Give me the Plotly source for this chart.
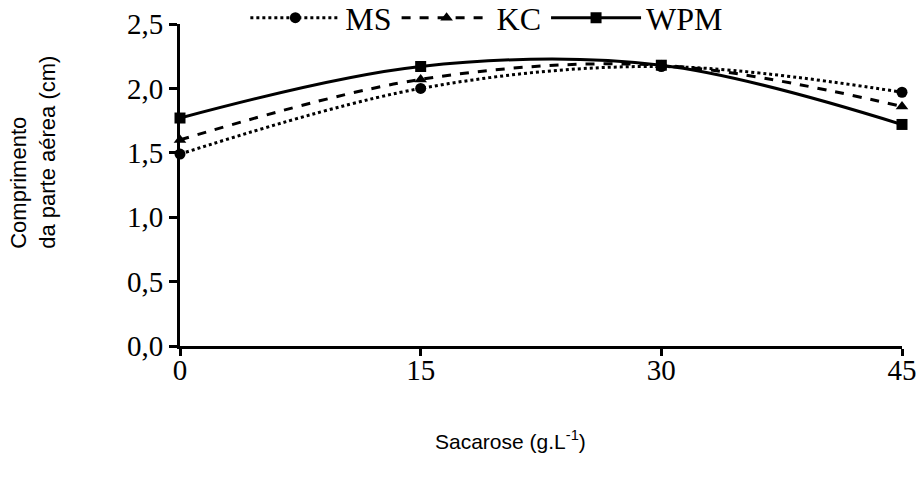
import plotly.graph_objects as go

sacarose = [0, 15, 30, 45]
ms = [1.49, 2.00, 2.17, 1.97]
kc = [1.60, 2.07, 2.18, 1.86]
wpm = [1.77, 2.17, 2.18, 1.72]
y_ticks = [0, 0.5, 1.0, 1.5, 2.0, 2.5]
y_labels = ["0,0", "0,5", "1,0", "1,5", "2,0", "2,5"]
x_ticks = [0, 15, 30, 45]

fig = go.Figure()
series = [
    ("MS", ms, "dot", "circle"),
    ("KC", kc, "dash", "triangle-up"),
    ("WPM", wpm, "solid", "square"),
]
for name, vals, dash, sym in series:
    fig.add_trace(go.Scatter(
        x=sacarose, y=vals, name=name, mode="lines+markers",
        line=dict(color="black", width=3, dash=dash, shape="spline", smoothing=1.0),
        marker=dict(color="black", size=11, symbol=sym),
        cliponaxis=False,
    ))

fig.update_layout(
    width=921, height=485,
    margin=dict(l=180, r=19, t=24, b=139, autoexpand=False),
    paper_bgcolor="white", plot_bgcolor="white",
    font=dict(family="Liberation Serif", color="black"),
    showlegend=True,
    legend=dict(
        orientation="h", x=0.425, xanchor="center", y=1.019, yanchor="middle",
        font=dict(family="Liberation Serif", size=32, color="black"),
        itemwidth=90, traceorder="normal", bgcolor="rgba(0,0,0,0)",
    ),
    xaxis=dict(
        range=[0, 45], tickvals=x_ticks, ticktext=[str(v) for v in x_ticks],
        showline=True, linecolor="black", linewidth=3, showgrid=False, zeroline=False,
        ticks="outside", ticklen=7, tickwidth=3, tickcolor="black",
        ticklabelstandoff=-11, automargin=False,
        tickfont=dict(family="Liberation Serif", size=29, color="black"),
    ),
    yaxis=dict(
        range=[0, 2.5], tickvals=y_ticks, ticktext=y_labels,
        showline=True, linecolor="black", linewidth=3, showgrid=False, zeroline=False,
        ticks="outside", ticklen=8, tickwidth=3, tickcolor="black", automargin=False,
        tickfont=dict(family="Liberation Serif", size=29, color="black"),
    ),
    annotations=[
        dict(text="Sacarose (g.L<sup>-1</sup>)", xref="paper", yref="paper",
             x=0.458, y=-0.292, xanchor="center", yanchor="middle", showarrow=False,
             font=dict(family="Liberation Sans", size=21, color="black")),
        dict(text="Comprimento<br>da parte aérea (cm)", xref="paper", yref="paper",
             x=-0.2036, y=0.60, xanchor="center", yanchor="middle", showarrow=False,
             textangle=-90, align="left",
             font=dict(family="Liberation Sans", size=22, color="black")),
    ],
)

fig.write_html("out.html")
